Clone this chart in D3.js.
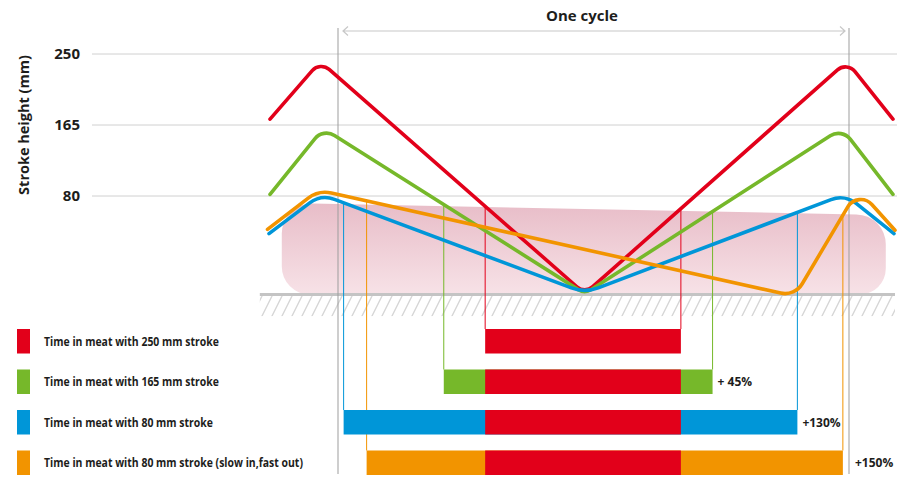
<!DOCTYPE html>
<html>
<head>
<meta charset="utf-8">
<script src="https://cdn.jsdelivr.net/npm/d3@7"></script>
<style>
  body { margin: 0; background: #fff; }
  svg { display: block; font-family: "Open Sans", "Noto Sans", sans-serif; }
</style>
</head>
<body>
<svg id="chart" width="910" height="477"></svg>
<script>
// ---- data -------------------------------------------------------------
// Stroke height ticks (mm)
const heightTicks = [80, 165, 250];

// Tool path for each stroke setting: [time in % of cycle, height in mm]
const strokeKeys = ["250", "165", "80", "80slow"];
const stroke250 = [[-13.3, 172], [-3.5, 241], [48.3, -37], [99.6, 241], [108.6, 172]];
const stroke165 = [[-13.3, 82], [-2.9, 161], [48.3, -37], [98.6, 161], [108.6, 82]];
const stroke80 = [[-13.5, 35], [-3.3, 82], [48.3, -36], [99.2, 82], [108.8, 35]];
const stroke80slow = [[-13.8, 40], [-3.8, 87], [89.4, -40], [101.8, 88], [109.0, 39]];

// Time in meat per stroke setting (% of cycle): entry and exit
const meatEntry = [28.8, 20.7, 1.1, 5.6];
const meatExit = [67.1, 73.3, 89.9, 98.8];

const legendLabels = [
  "Time in meat with 250 mm stroke",
  "Time in meat with 165 mm stroke",
  "Time in meat with 80 mm stroke",
  "Time in meat with 80 mm stroke (slow in,fast out)"
];
const gainLabels = ["", "+ 45%", "+130%", "+150%"];

// Meat block and conveyor belt (time %, height mm)
const meatSpan = [-11.0, 107.2];
const meatTopHeight = [71.6, 57.3];
const beltLevel = -38;
const beltSpan = [-15.3, 109.0];
const cycleBounds = [0, 100];

// ---- styles -----------------------------------------------------------
const colors = { "250": "#e2001a", "165": "#76b82a", "80": "#0096d8", "80slow": "#f29400" };
const cornerRadii = { "250": [12, 12, 12], "165": [15, 12, 15], "80": [26, 38, 26], "80slow": [28, 20, 15] };
const textColor = "#1d1d1b";

const svg = d3.select("#chart");

const x = d3.scaleLinear().domain(cycleBounds).range([338, 849]);
const y = d3.scaleLinear().domain([80, 250]).range([196, 54]);
const row = d3.scaleBand().domain(strokeKeys).range([329, 475]).paddingInner(0.395).paddingOuter(0);

const profiles = { "250": stroke250, "165": stroke165, "80": stroke80, "80slow": stroke80slow };

// piecewise-linear height lookup along a tool path
const heightAt = key => d3.scaleLinear()
  .domain(profiles[key].map(d => d[0]))
  .range(profiles[key].map(d => d[1]));

// polyline with rounded corners
function roundedLine(pts, radii) {
  const p = d3.path();
  p.moveTo(pts[0][0], pts[0][1]);
  for (let i = 1; i < pts.length - 1; i++) {
    p.arcTo(pts[i][0], pts[i][1], pts[i + 1][0], pts[i + 1][1], radii[i - 1]);
  }
  const last = pts[pts.length - 1];
  p.lineTo(last[0], last[1]);
  return p.toString();
}

function roundedPolygon(pts, radii) {
  const p = d3.path();
  const n = pts.length;
  p.moveTo((pts[n - 1][0] + pts[0][0]) / 2, (pts[n - 1][1] + pts[0][1]) / 2);
  for (let i = 0; i < n; i++) {
    const a = pts[i], b = pts[(i + 1) % n];
    p.arcTo(a[0], a[1], b[0], b[1], radii[i]);
  }
  p.closePath();
  return p.toString();
}

const defs = svg.append("defs");
const grad = defs.append("linearGradient").attr("id", "meatFill")
  .attr("x1", 0).attr("y1", 0).attr("x2", 0).attr("y2", 1);
grad.append("stop").attr("offset", "0%").attr("stop-color", "#e8bdc8");
grad.append("stop").attr("offset", "100%").attr("stop-color", "#f7e2e7");

const hatch = defs.append("pattern").attr("id", "hatch")
  .attr("patternUnits", "userSpaceOnUse").attr("width", 10).attr("height", 20);
hatch.append("path")
  .attr("d", "M-1,22 L11,-2 M9,22 L21,-2 M-11,22 L1,-2")
  .attr("stroke", "#d6d6d6").attr("stroke-width", 1.4);

// ---- grid and axis labels --------------------------------------------
svg.append("g").selectAll("line").data(heightTicks).join("line")
  .attr("x1", 92).attr("x2", 897)
  .attr("y1", d => y(d)).attr("y2", d => y(d))
  .attr("stroke", "#d0d0d0").attr("stroke-width", 1);

svg.append("g").selectAll("text").data(heightTicks).join("text")
  .attr("x", 80).attr("y", d => y(d) + 5)
  .attr("text-anchor", "end")
  .attr("font-size", 15).attr("font-weight", 700).attr("fill", textColor)
  .text(d => d);

svg.append("text")
  .attr("transform", `translate(28.5,${(y(250) + y(80)) / 2}) rotate(-90)`)
  .attr("text-anchor", "middle")
  .attr("font-size", 14.5).attr("font-weight", 700).attr("fill", textColor)
  .text("Stroke height (mm)");

// ---- meat block and belt ---------------------------------------------
const mx0 = x(meatSpan[0]), mx1 = x(meatSpan[1]);
svg.append("path")
  .attr("d", roundedPolygon([
    [mx0, y(meatTopHeight[0])],
    [mx1, y(meatTopHeight[1])],
    [mx1, y(beltLevel)],
    [mx0, y(beltLevel)]
  ], [30, 30, 26, 28]))
  .attr("fill", "url(#meatFill)");

svg.append("rect")
  .attr("x", x(beltSpan[0])).attr("width", x(beltSpan[1]) - x(beltSpan[0]))
  .attr("y", y(beltLevel) + 1.5).attr("height", 20)
  .attr("fill", "url(#hatch)");

svg.append("line")
  .attr("x1", x(beltSpan[0])).attr("x2", x(beltSpan[1]))
  .attr("y1", y(beltLevel)).attr("y2", y(beltLevel))
  .attr("stroke", "#c4c4c4").attr("stroke-width", 3);

// ---- cycle markers ----------------------------------------------------
svg.append("g").selectAll("line").data(cycleBounds).join("line")
  .attr("x1", d => x(d)).attr("x2", d => x(d))
  .attr("y1", 28).attr("y2", 474)
  .attr("stroke", "#9d9d9d").attr("stroke-width", 1);

const ay = 31, ax0 = x(cycleBounds[0]) + 5, ax1 = x(cycleBounds[1]) - 4;
svg.append("path")
  .attr("d", `M${ax0},${ay}H${ax1}M${ax0 + 5},${ay - 4.5}L${ax0},${ay}L${ax0 + 5},${ay + 4.5}` +
             `M${ax1 - 5},${ay - 4.5}L${ax1},${ay}L${ax1 - 5},${ay + 4.5}`)
  .attr("fill", "none").attr("stroke", "#c8c8c8").attr("stroke-width", 1.2);

svg.append("text")
  .attr("x", 582).attr("y", 21)
  .attr("text-anchor", "middle")
  .attr("font-size", 15).attr("font-weight", 700).attr("fill", textColor)
  .text("One cycle");

// ---- entry / exit markers --------------------------------------------
const markers = [];
strokeKeys.forEach((k, i) => {
  [meatEntry[i], meatExit[i]].forEach(t => markers.push({ k, t }));
});
svg.append("g").selectAll("line").data(markers).join("line")
  .attr("x1", d => x(d.t)).attr("x2", d => x(d.t))
  .attr("y1", d => y(heightAt(d.k)(d.t)))
  .attr("y2", d => row(d.k))
  .attr("stroke", d => colors[d.k]).attr("stroke-width", 1);

// ---- time-in-meat bars -----------------------------------------------
const bars = svg.append("g");
bars.selectAll("rect.full").data(strokeKeys).join("rect")
  .attr("class", "full")
  .attr("x", (k, i) => x(meatEntry[i]))
  .attr("width", (k, i) => x(meatExit[i]) - x(meatEntry[i]))
  .attr("y", k => row(k)).attr("height", row.bandwidth())
  .attr("fill", k => colors[k]);
bars.selectAll("rect.base").data(strokeKeys.slice(1)).join("rect")
  .attr("class", "base")
  .attr("x", x(meatEntry[0]))
  .attr("width", x(meatExit[0]) - x(meatEntry[0]))
  .attr("y", k => row(k)).attr("height", row.bandwidth())
  .attr("fill", colors["250"]);

// ---- tool paths --------------------------------------------------------
svg.append("g").selectAll("path").data(strokeKeys).join("path")
  .attr("d", k => roundedLine(profiles[k].map(d => [x(d[0]), y(d[1])]), cornerRadii[k]))
  .attr("fill", "none")
  .attr("stroke", k => colors[k])
  .attr("stroke-width", 3.6)
  .attr("stroke-linejoin", "round")
  .attr("stroke-linecap", "round");

// ---- legend ------------------------------------------------------------
svg.append("g").selectAll("rect").data(strokeKeys).join("rect")
  .attr("x", 17).attr("width", 13)
  .attr("y", k => row(k)).attr("height", row.bandwidth())
  .attr("fill", k => colors[k]);

const legendText = svg.append("g").selectAll("text").data(strokeKeys).join("text")
  .attr("font-size", 12.5).attr("font-weight", 700).attr("fill", textColor)
  .text((k, i) => legendLabels[i]);
// condensed lettering: fit the first label to its column width
const natural = legendText.node().getComputedTextLength();
const squeeze = natural > 0 ? Math.min(1, 175 / natural) : 1;
legendText.attr("transform", k => `translate(44,${row(k) + row.bandwidth() / 2 + 4.5}) scale(${squeeze},1)`);

svg.append("g").selectAll("text").data(strokeKeys.slice(1)).join("text")
  .attr("x", k => {
    const i = strokeKeys.indexOf(k);
    const xe = x(meatExit[i]);
    return (x(cycleBounds[1]) - xe) < 10 ? x(cycleBounds[1]) + 6 : xe + 5;
  })
  .attr("y", k => row(k) + row.bandwidth() / 2 + 4.5)
  .attr("font-size", 12).attr("font-weight", 700).attr("fill", textColor)
  .text(k => gainLabels[strokeKeys.indexOf(k)]);
</script>
</body>
</html>
